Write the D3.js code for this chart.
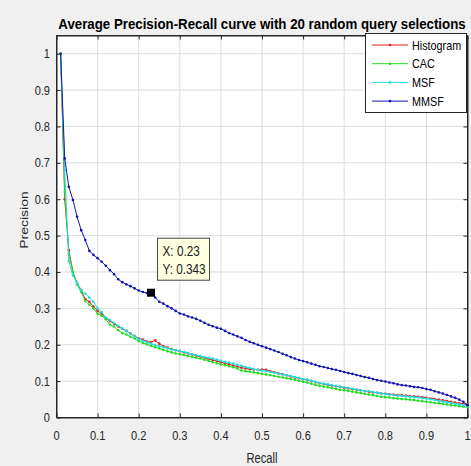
<!DOCTYPE html>
<html><head><meta charset="utf-8">
<script src="https://cdn.jsdelivr.net/npm/d3@7"></script>
<style>html,body{margin:0;padding:0;background:#f0f0f0;}svg{display:block;font-family:"Liberation Sans",Arial,sans-serif;}</style>
</head><body><svg id="c" width="471" height="466"></svg>
<script>
const title = "Average Precision-Recall curve with 20 random query selections";
const xLabel = "Recall";
const yLabel = "Precision";
const xTicks = [0,0.1,0.2,0.3,0.4,0.5,0.6,0.7,0.8,0.9,1];
const yTicks = [0,0.1,0.2,0.3,0.4,0.5,0.6,0.7,0.8,0.9,1];
const seriesNames = ["Histogram","CAC","MSF","MMSF"];
const seriesColors = ["#dd2222","#22dd22","#22dddd","#1414b4"];
const recall = [0.01,0.02,0.03,0.04,0.05,0.06,0.07,0.08,0.09,0.10,0.11,0.12,0.13,0.14,0.15,0.16,0.17,0.18,0.19,0.20,
0.21,0.22,0.23,0.24,0.25,0.26,0.27,0.28,0.29,0.30,0.31,0.32,0.33,0.34,0.35,0.36,0.37,0.38,0.39,0.40,
0.41,0.42,0.43,0.44,0.45,0.46,0.47,0.48,0.49,0.50,0.51,0.52,0.53,0.54,0.55,0.56,0.57,0.58,0.59,0.60,
0.61,0.62,0.63,0.64,0.65,0.66,0.67,0.68,0.69,0.70,0.71,0.72,0.73,0.74,0.75,0.76,0.77,0.78,0.79,0.80,
0.81,0.82,0.83,0.84,0.85,0.86,0.87,0.88,0.89,0.90,0.91,0.92,0.93,0.94,0.95,0.96,0.97,0.98,0.99,1.00];
const histogram = [1.000,0.600,0.460,0.400,0.370,0.350,0.325,0.318,0.305,0.293,0.285,0.272,0.265,0.258,0.250,0.244,0.238,0.231,0.224,0.218,
0.214,0.209,0.207,0.212,0.203,0.196,0.192,0.188,0.185,0.182,0.179,0.176,0.173,0.170,0.167,0.164,0.161,0.158,0.155,0.152,
0.149,0.146,0.143,0.140,0.137,0.135,0.133,0.132,0.131,0.132,0.131,0.127,0.124,0.121,0.119,0.116,0.113,0.110,0.108,0.105,
0.103,0.100,0.097,0.094,0.092,0.090,0.088,0.086,0.084,0.082,0.080,0.078,0.076,0.075,0.073,0.071,0.069,0.068,0.066,0.065,
0.064,0.063,0.062,0.061,0.060,0.059,0.058,0.057,0.056,0.054,0.052,0.051,0.049,0.047,0.045,0.043,0.041,0.039,0.037,0.036];
const cac = [1.000,0.620,0.450,0.400,0.365,0.345,0.320,0.310,0.300,0.285,0.280,0.270,0.255,0.250,0.240,0.232,0.228,0.222,0.217,0.210,
0.205,0.201,0.197,0.193,0.190,0.186,0.182,0.179,0.176,0.174,0.172,0.169,0.166,0.164,0.162,0.159,0.156,0.152,0.149,0.146,
0.144,0.141,0.138,0.135,0.129,0.127,0.126,0.124,0.122,0.120,0.118,0.116,0.114,0.112,0.110,0.108,0.106,0.104,0.101,0.098,
0.096,0.093,0.090,0.087,0.085,0.083,0.081,0.079,0.076,0.075,0.073,0.071,0.069,0.067,0.065,0.063,0.061,0.059,0.057,0.056,
0.055,0.053,0.052,0.051,0.050,0.049,0.048,0.046,0.045,0.043,0.042,0.040,0.039,0.037,0.036,0.034,0.033,0.031,0.030,0.028];
const msf = [1.000,0.680,0.430,0.390,0.370,0.350,0.340,0.330,0.318,0.300,0.290,0.275,0.268,0.260,0.252,0.245,0.238,0.230,0.223,0.216,
0.211,0.207,0.203,0.199,0.196,0.193,0.190,0.187,0.185,0.183,0.180,0.177,0.174,0.171,0.169,0.166,0.164,0.162,0.159,0.156,
0.153,0.151,0.148,0.145,0.142,0.139,0.136,0.133,0.131,0.129,0.127,0.125,0.123,0.121,0.118,0.116,0.114,0.111,0.109,0.106,
0.104,0.101,0.098,0.095,0.093,0.091,0.089,0.087,0.085,0.083,0.081,0.079,0.077,0.075,0.073,0.072,0.070,0.068,0.066,0.065,
0.063,0.062,0.060,0.059,0.058,0.057,0.056,0.055,0.053,0.052,0.050,0.048,0.046,0.044,0.042,0.040,0.038,0.036,0.034,0.031];
const mmsf = [1.000,0.712,0.634,0.598,0.552,0.515,0.488,0.458,0.447,0.438,0.428,0.417,0.405,0.394,0.380,0.372,0.366,0.361,0.355,0.349,
0.345,0.342,0.343,0.330,0.318,0.313,0.306,0.300,0.293,0.286,0.283,0.278,0.275,0.271,0.266,0.260,0.255,0.251,0.247,0.244,
0.238,0.232,0.228,0.223,0.219,0.213,0.208,0.204,0.200,0.196,0.192,0.188,0.184,0.180,0.175,0.171,0.166,0.162,0.158,0.155,
0.152,0.148,0.145,0.141,0.139,0.136,0.133,0.131,0.128,0.125,0.122,0.120,0.117,0.114,0.111,0.109,0.106,0.103,0.101,0.099,
0.096,0.094,0.091,0.089,0.088,0.086,0.084,0.083,0.081,0.078,0.076,0.072,0.069,0.066,0.062,0.058,0.054,0.049,0.043,0.034];
const tipX = 0.23, tipY = 0.343;

const svg = d3.select("#c");
const L = 56.5, R = 467.5, T = 35.5, B = 417.5;
const x = d3.scaleLinear().domain([0,1]).range([L,R]);
const y = d3.scaleLinear().domain([0,1.05]).range([B,T]);

// text helper: horizontally condensed text like the reference
function txt(parent, px, py, str, size, sx, opt) {
  opt = opt || {};
  const t = parent.append("text")
    .attr("transform", `translate(${px},${py})` + (opt.rot ? ` scale(${sx},1) rotate(${opt.rot})` : ` scale(${sx},1)`))
    .attr("font-size", size + "px")
    .attr("fill", opt.fill || "#262626")
    .attr("text-anchor", opt.anchor || "start")
    .text(str);
  if (opt.bold) t.attr("font-weight", "bold");
  return t;
}

svg.append("rect").attr("width",471).attr("height",466).attr("fill","#f0f0f0");
svg.append("rect").attr("x",L).attr("y",T).attr("width",R-L).attr("height",B-T).attr("fill","#fff");

// grid
const g = svg.append("g");
g.selectAll(".gx").data(xTicks.slice(1,-1)).join("line").attr("x1",d=>x(d)).attr("x2",d=>x(d)).attr("y1",T).attr("y2",B).attr("stroke","#dcdcdc").attr("stroke-width",1);
g.selectAll(".gy").data(yTicks.slice(1)).join("line").attr("y1",d=>y(d)).attr("y2",d=>y(d)).attr("x1",L).attr("x2",R).attr("stroke","#dcdcdc").attr("stroke-width",1);

// axes (tick marks via d3.axis, labels drawn condensed)
const xa = svg.append("g").attr("transform",`translate(0,${B})`).call(d3.axisBottom(x).tickValues(xTicks).tickFormat("").tickSizeInner(-4).tickSizeOuter(0));
const xt = svg.append("g").attr("transform",`translate(0,${T})`).call(d3.axisTop(x).tickValues(xTicks).tickFormat("").tickSizeInner(-4).tickSizeOuter(0));
const ya = svg.append("g").attr("transform",`translate(${L},0)`).call(d3.axisLeft(y).tickValues(yTicks).tickFormat("").tickSizeInner(-4).tickSizeOuter(0));
const yr = svg.append("g").attr("transform",`translate(${R},0)`).call(d3.axisRight(y).tickValues(yTicks).tickFormat("").tickSizeInner(-4).tickSizeOuter(0));
[xa,xt,ya,yr].forEach(a=>{a.selectAll("path,line").attr("stroke","#262626");});
svg.append("rect").attr("x",L).attr("y",T).attr("width",R-L).attr("height",B-T).attr("fill","none").attr("stroke","#262626");

const fmt = d => String(d);
const labs = svg.append("g");
xTicks.forEach(d => txt(labs, x(d), 440, fmt(d), 13, 0.85, {anchor:"middle"}));
yTicks.forEach(d => txt(labs, 50, y(d)+4.5, fmt(d), 13, 0.85, {anchor:"end"}));

// series
const all = [histogram,cac,msf,mmsf];
const line = d3.line().x((d,i)=>x(recall[i])).y(d=>y(d));
all.forEach((s,k)=>{
  const gg = svg.append("g");
  gg.append("path").datum(s).attr("d",line).attr("fill","none").attr("stroke",seriesColors[k]).attr("stroke-width",1);
  gg.selectAll("circle").data(s).join("circle").attr("cx",(d,i)=>x(recall[i])).attr("cy",d=>y(d)).attr("r",1.3).attr("fill",seriesColors[k]);
});

// datatip
svg.append("rect").attr("x",x(tipX)-4).attr("y",y(tipY)-4).attr("width",8).attr("height",8).attr("fill","#000");
const bx = x(tipX)+6.5, by = y(tipY)-54.5;
svg.append("rect").attr("x",bx).attr("y",by).attr("width",52).attr("height",42).attr("fill","#ffffe1").attr("stroke","#444").attr("stroke-width",1);
txt(svg, bx+5, by+18, "X: "+tipX, 14, 0.84, {fill:"#222"});
txt(svg, bx+5, by+36, "Y: "+tipY, 14, 0.84, {fill:"#222"});

// legend
const lg = svg.append("g");
lg.append("rect").attr("x",365.5).attr("y",33.5).attr("width",101).attr("height",79).attr("fill","#fff").attr("stroke","#262626");
seriesNames.forEach((n,k)=>{
  const yy = 45 + k*18.7;
  lg.append("line").attr("x1",372).attr("x2",408).attr("y1",yy).attr("y2",yy).attr("stroke",seriesColors[k]).attr("stroke-width",1);
  lg.append("circle").attr("cx",390).attr("cy",yy).attr("r",1.3).attr("fill",seriesColors[k]);
  txt(lg, 412, yy+4.5, n, 13, 0.83, {fill:"#000"});
});

// titles
txt(svg, (L+R)/2, 28.5, title, 15, 0.885, {anchor:"middle", bold:true, fill:"#000"});
txt(svg, (L+R)/2, 463, xLabel, 14, 0.8, {anchor:"middle"});
txt(svg, 27.5, 220, yLabel, 14, 0.8, {anchor:"middle", rot:-90});
</script></body></html>
